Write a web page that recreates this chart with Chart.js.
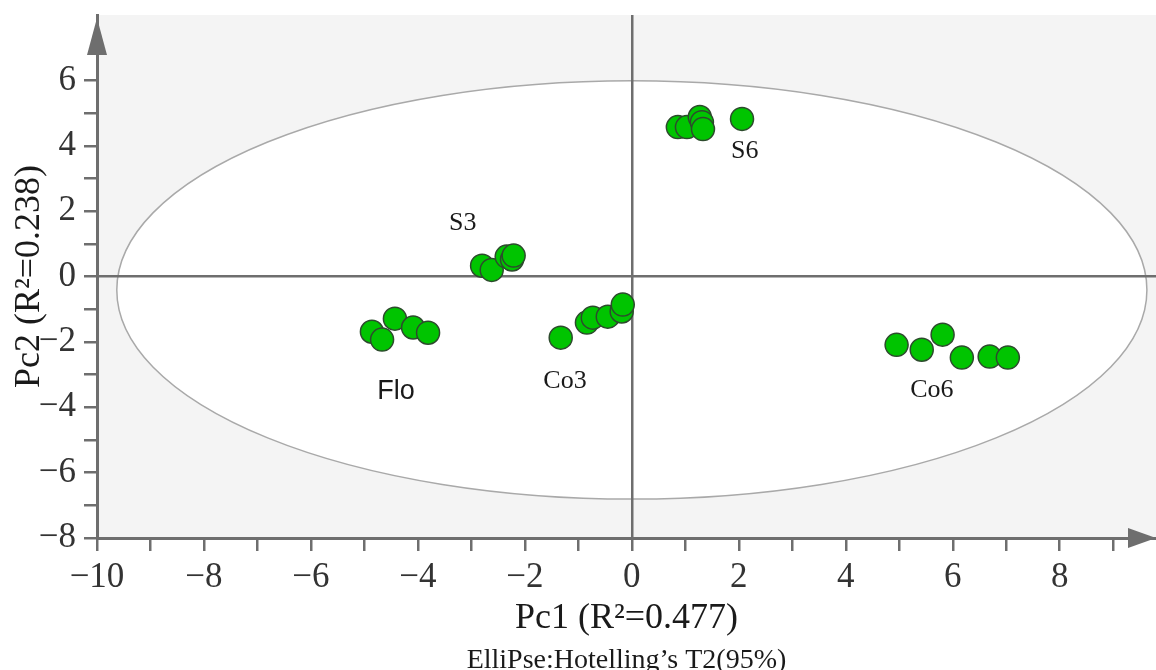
<!DOCTYPE html>
<html>
<head>
<meta charset="utf-8">
<script src="https://cdn.jsdelivr.net/npm/chart.js@4.4.1/dist/chart.umd.min.js"></script>
<style>
  html, body { margin: 0; padding: 0; background: #fff; }
  #wrap { width: 1156px; height: 670px; }
</style>
</head>
<body>
<div id="wrap"><canvas id="pcaChart" width="1156" height="670"></canvas></div>
<script>
// scores (Pc1, Pc2)
const floPc1 = [-4.86, -4.67, -4.43, -4.09, -3.81];
const floPc2 = [-1.69, -1.93, -1.29, -1.56, -1.72];
const s3Pc1 = [-2.80, -2.62, -2.34, -2.24, -2.21];
const s3Pc2 = [0.33, 0.20, 0.61, 0.52, 0.64];
const co3Pc1 = [-1.33, -0.84, -0.73, -0.45, -0.19, -0.17];
const co3Pc2 = [-1.87, -1.41, -1.26, -1.23, -1.07, -0.86];
const s6Pc1 = [0.86, 1.03, 1.27, 1.31, 1.33, 2.06];
const s6Pc2 = [4.57, 4.57, 4.88, 4.72, 4.51, 4.82];
const co6Pc1 = [4.95, 5.42, 5.81, 6.17, 6.69, 7.03];
const co6Pc2 = [-2.09, -2.24, -1.78, -2.48, -2.45, -2.48];

const groupNames = ['Flo', 'S3', 'Co3', 'S6', 'Co6'];
const groupPc1 = [floPc1, s3Pc1, co3Pc1, s6Pc1, co6Pc1];
const groupPc2 = [floPc2, s3Pc2, co3Pc2, s6Pc2, co6Pc2];

// where the group names sit, in data units
const labelPc1 = [-4.41, -3.16, -1.25, 2.11, 5.61];
const labelPc2 = [-3.53, 1.63, -3.19, 3.83, -3.47];

const pc1Ticks = [-10, -9, -8, -7, -6, -5, -4, -3, -2, -1, 0, 1, 2, 3, 4, 5, 6, 7, 8, 9];
const pc2Ticks = [-8, -7, -6, -5, -4, -3, -2, -1, 0, 1, 2, 3, 4, 5, 6];

// Hotelling T2 ellipse (center and semi axes, data units)
const ellipseCenter = [0, -0.41];
const ellipseRadii = [9.63, 6.4];

const axisGrey = '#6e6e6e';
Chart.defaults.font.family = '"Liberation Serif", "Times New Roman", serif';

function tickText(v) {
    return v % 2 === 0 ? String(v).replace('-', '\u2212') : '';
}

const backdrop = {
    id: 'backdrop',
    beforeDraw(chart) {
        const { ctx, chartArea: a, scales: { x, y } } = chart;
        ctx.save();
        ctx.fillStyle = '#f4f4f4';
        ctx.fillRect(a.left, a.top, a.right - a.left, a.bottom - a.top);
        const cx = x.getPixelForValue(ellipseCenter[0]);
        const cy = y.getPixelForValue(ellipseCenter[1]);
        const rx = x.getPixelForValue(ellipseCenter[0] + ellipseRadii[0]) - cx;
        const ry = cy - y.getPixelForValue(ellipseCenter[1] + ellipseRadii[1]);
        ctx.beginPath();
        ctx.ellipse(cx, cy, rx, ry, 0, 0, Math.PI * 2);
        ctx.fillStyle = '#ffffff';
        ctx.fill();
        ctx.lineWidth = 1.5;
        ctx.strokeStyle = '#a9a9a9';
        ctx.stroke();
        ctx.restore();
    }
};

const extras = {
    id: 'extras',
    afterDraw(chart) {
        const { ctx, chartArea: a, scales: { x, y } } = chart;
        ctx.save();
        // arrows at the axis ends
        ctx.fillStyle = axisGrey;
        ctx.beginPath();
        ctx.moveTo(a.left, 18);
        ctx.lineTo(a.left - 10, 55);
        ctx.lineTo(a.left + 10, 55);
        ctx.closePath();
        ctx.fill();
        ctx.beginPath();
        ctx.moveTo(a.right, a.bottom);
        ctx.lineTo(a.right - 28, a.bottom - 10);
        ctx.lineTo(a.right - 28, a.bottom + 10);
        ctx.closePath();
        ctx.fill();

        // group names
        ctx.fillStyle = '#1a1a1a';
        ctx.textAlign = 'center';
        ctx.textBaseline = 'middle';
        groupNames.forEach((name, i) => {
            ctx.font = name === 'Flo'
                ? '27px "Liberation Sans", "DejaVu Sans", sans-serif'
                : '26px "Liberation Serif", serif';
            ctx.fillText(name, x.getPixelForValue(labelPc1[i]), y.getPixelForValue(labelPc2[i]));
        });

        // ellipse note under the x title
        ctx.font = '28px "Liberation Serif", serif';
        ctx.fillText('ElliPse:Hotelling\u2019s T2(95%)', (a.left + a.right) / 2, 661);
        ctx.restore();
    }
};

const datasets = groupNames.map((name, i) => ({
    label: name,
    data: groupPc1[i].map((v, j) => ({ x: v, y: groupPc2[i][j] })),
    backgroundColor: '#00c400',
    borderColor: '#2d4a2d',
    borderWidth: 1.5,
    pointRadius: 11.5,
    pointHoverRadius: 11.5,
    clip: false
}));

const gridFor = {
    color: (c) => (c.tick && c.tick.value === 0 ? axisGrey : 'transparent'),
    lineWidth: 2.5,
    tickColor: axisGrey,
    tickWidth: 2.5,
    tickLength: 13,
    drawTicks: true
};

new Chart(document.getElementById('pcaChart').getContext('2d'), {
    type: 'scatter',
    data: { datasets },
    options: {
        responsive: false,
        animation: false,
        events: [],
        layout: { autoPadding: false, padding: { top: 15, right: 0, left: 0, bottom: 0 } },
        plugins: {
            legend: { display: false },
            tooltip: { enabled: false }
        },
        scales: {
            x: {
                type: 'linear',
                min: -10,
                max: 9.8,
                afterBuildTicks: (s) => { s.ticks = pc1Ticks.map(v => ({ value: v })); },
                afterFit: (s) => { s.height = 132; s.paddingLeft = 0; s.paddingRight = 0; },
                border: { display: true, color: axisGrey, width: 3 },
                grid: gridFor,
                ticks: {
                    autoSkip: false,
                    maxRotation: 0,
                    padding: 6,
                    color: '#333',
                    font: { size: 35 },
                    callback: tickText
                },
                title: {
                    display: true,
                    text: 'Pc1 (R\u00b2=0.477)',
                    color: '#1a1a1a',
                    font: { size: 36 },
                    padding: { top: 0, bottom: 30 }
                }
            },
            y: {
                type: 'linear',
                min: -8,
                max: 8,
                afterBuildTicks: (s) => { s.ticks = pc2Ticks.map(v => ({ value: v })); },
                afterFit: (s) => { s.width = 97; s.paddingTop = 0; s.paddingBottom = 0; },
                border: { display: true, color: axisGrey, width: 3 },
                grid: gridFor,
                ticks: {
                    autoSkip: false,
                    padding: 8,
                    color: '#333',
                    font: { size: 35 },
                    callback: tickText
                },
                title: {
                    display: true,
                    text: 'Pc2 (R\u00b2=0.238)',
                    color: '#1a1a1a',
                    font: { size: 36 },
                    padding: { top: 8, bottom: 0 }
                }
            }
        }
    },
    plugins: [backdrop, extras]
});
</script>
</body>
</html>
